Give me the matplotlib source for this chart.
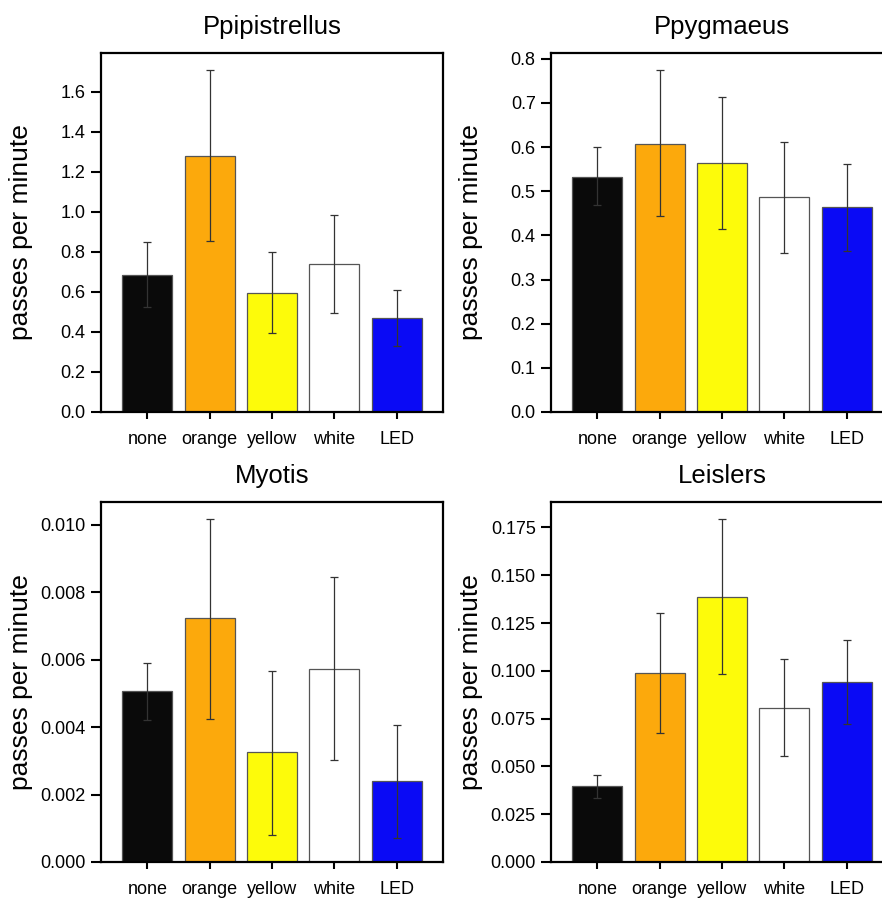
import numpy as np
import matplotlib
matplotlib.use("Agg")
import matplotlib.pyplot as plt
from matplotlib.ticker import FormatStrFormatter

plt.rcParams["font.family"] = ["Liberation Sans", "DejaVu Sans"]

# === Données ===
categories = ["none", "orange", "yellow", "white", "LED"]
bar_colors = ["#0a0a0a", "#fca90c", "#fdfb0a", "#ffffff", "#0a0af5"]

species = ["Ppipistrellus", "Ppygmaeus", "Myotis", "Leislers"]

ppip_mean = [0.687, 1.280, 0.597, 0.742, 0.472]
ppip_low = [0.523, 0.857, 0.397, 0.497, 0.332]
ppip_high = [0.852, 1.708, 0.798, 0.985, 0.612]

ppyg_mean = [0.532, 0.608, 0.563, 0.486, 0.464]
ppyg_low = [0.468, 0.444, 0.414, 0.359, 0.365]
ppyg_high = [0.600, 0.775, 0.714, 0.612, 0.561]

myo_mean = [0.00506, 0.00723, 0.00326, 0.00572, 0.00241]
myo_low = [0.00421, 0.00425, 0.00081, 0.00301, 0.00070]
myo_high = [0.00590, 0.01017, 0.00566, 0.00846, 0.00407]

leis_mean = [0.0396, 0.0987, 0.1388, 0.0807, 0.0939]
leis_low = [0.0337, 0.0677, 0.0981, 0.0554, 0.0720]
leis_high = [0.0456, 0.1301, 0.1794, 0.1064, 0.1161]

panels = [
    (ppip_mean, ppip_low, ppip_high, 1.795, np.arange(0, 1.61, 0.2), "%.1f"),
    (ppyg_mean, ppyg_low, ppyg_high, 0.813, np.arange(0, 0.81, 0.1), "%.1f"),
    (myo_mean, myo_low, myo_high, 0.01067, np.arange(0, 0.0101, 0.002), "%.3f"),
    (leis_mean, leis_low, leis_high, 0.1883, np.arange(0, 0.176, 0.025), "%.3f"),
]

# positions des axes en pixels (gauche, haut, bas)
W, H = 882, 899
boxes = [(101, 53, 412), (551, 53, 412), (101, 502, 862), (551, 502, 862)]

fig = plt.figure(figsize=(W / 100, H / 100), dpi=100)

for (name, (mean, low, high, ymax, ticks, fmt), (left, top, bottom)) in zip(species, panels, boxes):
    ax = fig.add_axes([left / W, (H - bottom) / H, 342 / W, (bottom - top) / H])
    x = np.arange(len(categories))
    mean = np.array(mean)
    yerr = [mean - np.array(low), np.array(high) - mean]
    ax.bar(x, mean, width=0.8, color=bar_colors, edgecolor="#555555", linewidth=0.9, zorder=2)
    ax.errorbar(x, mean, yerr=yerr, fmt="none", ecolor="#333333", elinewidth=0.9,
                capsize=3, capthick=0.9, zorder=3)
    ax.set_xlim(-0.745, 4.745)
    ax.set_ylim(0, ymax)
    ax.set_yticks(ticks)
    ax.yaxis.set_major_formatter(FormatStrFormatter(fmt))
    ax.set_xticks(x)
    ax.set_xticklabels(categories)
    ax.tick_params(axis="y", direction="out", length=7, width=1.5, pad=4, labelsize=13)
    ax.tick_params(axis="x", direction="out", length=5, width=1.5, pad=9, labelsize=13)
    for sp in ax.spines.values():
        sp.set_linewidth(1.6)
    ax.set_title(name, fontsize=18.5, pad=14)
    ax.set_ylabel("passes per minute", fontsize=19)
    ax.yaxis.set_label_coords(-0.199, 0.5)

fig.savefig("out.png", dpi=100)
